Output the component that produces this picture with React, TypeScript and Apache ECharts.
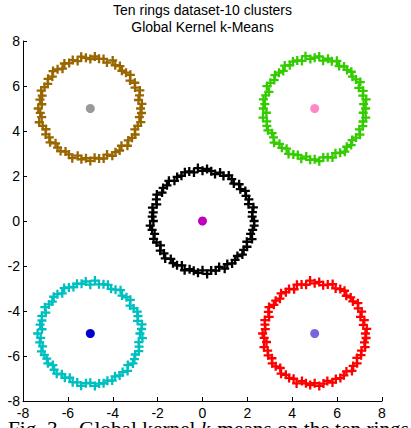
import React, { useEffect, useRef } from "react";
import * as echarts from "echarts";

const TITLE_LINES = ["Ten rings dataset-10 clusters", "Global Kernel k-Means"];
const X_TICKS = [-8, -6, -4, -2, 0, 2, 4, 6, 8];
const Y_TICKS = [-8, -6, -4, -2, 0, 2, 4, 6, 8];

const ANGLES_DEG = [
  0, 5, 10, 15, 20, 25, 30, 35, 40, 45, 50, 55,
  60, 65, 70, 75, 80, 85, 90, 95, 100, 105, 110, 115,
  120, 125, 130, 135, 140, 145, 150, 155, 160, 165, 170, 175,
  180, 185, 190, 195, 200, 205, 210, 215, 220, 225, 230, 235,
  240, 245, 250, 255, 260, 265, 270, 275, 280, 285, 290, 295,
  300, 305, 310, 315, 320, 325, 330, 335, 340, 345, 350, 355,
];

const RING_NAMES = ["ring1", "ring2", "ring3", "ring4", "ring5"];
const RING_CENTER_X = [-5, 5, 0, -5, 5];
const RING_CENTER_Y = [5, 5, 0, -5, -5];

const BROWN_R = [
  2.24, 2.31, 2.18, 2.27, 2.35, 2.2, 2.29, 2.16, 2.33, 2.25, 2.19, 2.3,
  2.22, 2.36, 2.17, 2.28, 2.24, 2.32, 2.2, 2.26, 2.34, 2.18, 2.29, 2.23,
  2.31, 2.16, 2.27, 2.35, 2.21, 2.3, 2.19, 2.25, 2.33, 2.22, 2.28, 2.17,
  2.32, 2.24, 2.2, 2.36, 2.26, 2.18, 2.3, 2.23, 2.34, 2.19, 2.27, 2.31,
  2.21, 2.25, 2.35, 2.17, 2.29, 2.22, 2.33, 2.2, 2.26, 2.3, 2.18, 2.32,
  2.24, 2.28, 2.16, 2.34, 2.21, 2.27, 2.31, 2.19, 2.25, 2.33, 2.22, 2.29,
];
const GREEN_R = [
  2.27, 2.19, 2.33, 2.22, 2.3, 2.17, 2.35, 2.25, 2.2, 2.31, 2.24, 2.28,
  2.18, 2.34, 2.23, 2.29, 2.16, 2.32, 2.26, 2.21, 2.36, 2.19, 2.27, 2.3,
  2.22, 2.33, 2.18, 2.25, 2.31, 2.2, 2.28, 2.35, 2.17, 2.26, 2.32, 2.23,
  2.29, 2.16, 2.34, 2.21, 2.27, 2.3, 2.19, 2.24, 2.36, 2.22, 2.28, 2.18,
  2.33, 2.25, 2.2, 2.31, 2.17, 2.29, 2.26, 2.35, 2.21, 2.24, 2.32, 2.19,
  2.27, 2.34, 2.22, 2.3, 2.18, 2.25, 2.33, 2.2, 2.28, 2.23, 2.31, 2.17,
];
const BLACK_R = [
  2.3, 2.22, 2.26, 2.35, 2.18, 2.28, 2.24, 2.33, 2.2, 2.31, 2.17, 2.27,
  2.34, 2.21, 2.29, 2.16, 2.25, 2.32, 2.23, 2.36, 2.19, 2.28, 2.3, 2.22,
  2.26, 2.18, 2.33, 2.24, 2.29, 2.2, 2.35, 2.27, 2.17, 2.31, 2.23, 2.25,
  2.19, 2.34, 2.28, 2.21, 2.32, 2.26, 2.16, 2.3, 2.24, 2.35, 2.2, 2.29,
  2.27, 2.18, 2.33, 2.22, 2.25, 2.31, 2.19, 2.36, 2.23, 2.28, 2.17, 2.34,
  2.21, 2.3, 2.26, 2.2, 2.32, 2.24, 2.29, 2.18, 2.35, 2.22, 2.27, 2.31,
];
const CYAN_R = [
  2.21, 2.29, 2.34, 2.18, 2.26, 2.31, 2.23, 2.16, 2.33, 2.28, 2.2, 2.35,
  2.25, 2.19, 2.3, 2.27, 2.22, 2.36, 2.17, 2.32, 2.24, 2.29, 2.2, 2.26,
  2.33, 2.18, 2.28, 2.31, 2.21, 2.25, 2.34, 2.19, 2.3, 2.23, 2.27, 2.16,
  2.35, 2.22, 2.29, 2.2, 2.32, 2.26, 2.24, 2.31, 2.18, 2.28, 2.33, 2.21,
  2.27, 2.17, 2.3, 2.25, 2.36, 2.22, 2.19, 2.34, 2.26, 2.29, 2.23, 2.31,
  2.2, 2.28, 2.24, 2.35, 2.18, 2.32, 2.27, 2.21, 2.3, 2.25, 2.19, 2.33,
];
const RED_R = [
  2.26, 2.33, 2.2, 2.29, 2.17, 2.31, 2.24, 2.35, 2.22, 2.27, 2.19, 2.32,
  2.28, 2.21, 2.34, 2.25, 2.18, 2.3, 2.23, 2.36, 2.2, 2.26, 2.31, 2.17,
  2.29, 2.24, 2.33, 2.19, 2.27, 2.22, 2.35, 2.28, 2.16, 2.3, 2.25, 2.21,
  2.32, 2.26, 2.18, 2.34, 2.23, 2.29, 2.2, 2.31, 2.27, 2.17, 2.33, 2.24,
  2.28, 2.22, 2.36, 2.19, 2.25, 2.3, 2.21, 2.34, 2.26, 2.18, 2.32, 2.23,
  2.29, 2.27, 2.2, 2.35, 2.24, 2.31, 2.17, 2.28, 2.22, 2.33, 2.25, 2.3,
];
const RING_RADII = [BROWN_R, GREEN_R, BLACK_R, CYAN_R, RED_R];
const RING_COLORS = ["#996600", "#33cc00", "#000000", "#00bfbf", "#ff0000"];

const CENTROID_X = [-5, 5, 0, -5, 5];
const CENTROID_Y = [5, 5, 0, -5, -5];
const CENTROID_COLORS = ["#999999", "#ff88c8", "#bf00bf", "#0000cc", "#7766dd"];

const CAPTION_START = "Fig. 3.\u00a0\u00a0 Global kernel ";
const CAPTION_ITALIC = "k";
const CAPTION_END = "-means on the ten rings dataset";

const PLUS = "path://M5,0L5,10M0,5L10,5";

export default function App() {
  const ref = useRef<HTMLDivElement>(null);
  useEffect(() => {
    if (!ref.current) return;
    const chart = echarts.init(ref.current, null, { renderer: "svg" });

    const ringSeries = RING_NAMES.map((name, k) => ({
      name,
      type: "scatter",
      symbol: PLUS,
      symbolSize: 9,
      itemStyle: {
        color: "transparent",
        borderColor: RING_COLORS[k],
        borderWidth: 2.3,
        opacity: 1,
      },
      z: 2,
      data: ANGLES_DEG.map((a, i) => {
        const t = (a * Math.PI) / 180;
        const r = RING_RADII[k][i];
        return [RING_CENTER_X[k] + r * Math.cos(t), RING_CENTER_Y[k] + r * Math.sin(t)];
      }),
    }));

    const centroidSeries = CENTROID_X.map((x, k) => ({
      name: "centroid" + (k + 1),
      type: "scatter",
      symbol: "circle",
      symbolSize: 9,
      itemStyle: { color: CENTROID_COLORS[k], opacity: 1 },
      z: 5,
      data: [[x, CENTROID_Y[k]]],
    }));

    const axisCommon = {
      type: "value",
      interval: 2,
      axisLine: { show: true, onZero: false, lineStyle: { color: "#000", width: 1 } },
      axisTick: { show: true, inside: true, length: 4, lineStyle: { color: "#000" } },
      splitLine: { show: false },
    };

    chart.setOption({
      animation: false,
      backgroundColor: "#ffffff",
      grid: { left: 23, right: 29, top: 41, bottom: 27, containLabel: false },
      xAxis: {
        ...axisCommon,
        min: X_TICKS[0],
        max: X_TICKS[X_TICKS.length - 1],
        axisLabel: {
          margin: 5,
          color: "#000",
          fontSize: 14,
          fontFamily: "Liberation Sans, Arial, sans-serif",
        },
      },
      yAxis: {
        ...axisCommon,
        min: Y_TICKS[0],
        max: Y_TICKS[Y_TICKS.length - 1],
        axisLabel: {
          margin: 3,
          color: "#000",
          fontSize: 14,
          fontFamily: "Liberation Sans, Arial, sans-serif",
        },
      },
      graphic: [
        {
          type: "text",
          x: 202.5,
          y: 2,
          style: {
            text: TITLE_LINES.join("\n"),
            fill: "#000",
            fontSize: 14,
            lineHeight: 16.5,
            fontFamily: "Liberation Sans, Arial, sans-serif",
            align: "center",
            verticalAlign: "top",
          },
        },
        {
          type: "text",
          x: 8,
          y: 422,
          style: {
            text: CAPTION_START + "{i|" + CAPTION_ITALIC + "}" + CAPTION_END,
            fill: "#000",
            fontSize: 21.3,
            lineHeight: 14,
            fontFamily: "Liberation Serif, Times New Roman, serif",
            align: "left",
            verticalAlign: "top",
            rich: {
              i: {
                fontStyle: "italic",
                fontSize: 21.3,
                lineHeight: 14,
                fontFamily: "Liberation Serif, Times New Roman, serif",
                fill: "#000",
              },
            },
          },
        },
      ],
      series: [...ringSeries, ...centroidSeries],
    });
    return () => chart.dispose();
  }, []);
  return (
    <div
      ref={ref}
      style={{ position: "absolute", left: 0, top: 0, width: 411, height: 428 }}
    />
  );
}
